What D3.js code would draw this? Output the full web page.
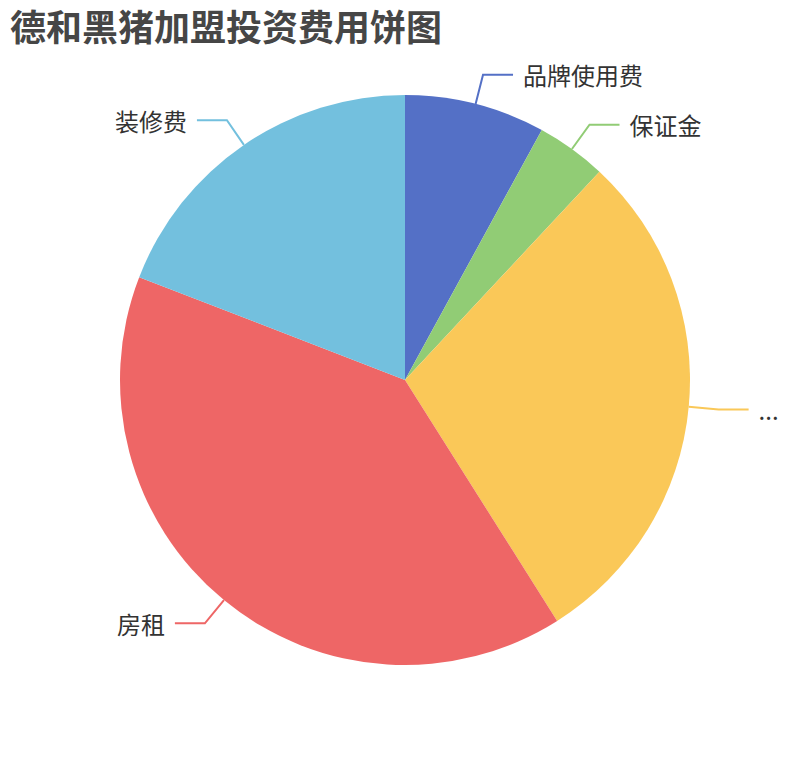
<!DOCTYPE html>
<html>
<head>
<meta charset="utf-8">
<script src="https://cdn.jsdelivr.net/npm/d3@7"></script>
<style>
  body { margin: 0; background: #fff; }
  svg { display: block; font-family: "Noto Sans CJK SC", "Noto Sans", sans-serif; }
</style>
</head>
<body>
<svg width="810" height="760"></svg>
<script>
const names = ["品牌使用费", "保证金", "...", "房租", "装修费"];
const values = [2, 1, 7.3, 10, 4.8];
const colors = ["#5470c6", "#91cc75", "#fac858", "#ee6666", "#73c0de"];

const svg = d3.select("svg");
const cx = 405, cy = 380, radius = 285;

svg.append("text")
  .attr("x", 10)
  .attr("y", 25)
  .attr("dominant-baseline", "central")
  .attr("font-size", "36px")
  .attr("font-weight", "bold")
  .attr("fill", "#464646")
  .text("德和黑猪加盟投资费用饼图");

const data = names.map((n, i) => ({ name: n, value: values[i], color: colors[i] }));

const pie = d3.pie().sort(null).value((d) => d.value);
const arcs = pie(data);
const arcGen = d3.arc().innerRadius(0).outerRadius(radius);

const g = svg.append("g").attr("transform", `translate(${cx},${cy})`);

g.selectAll("path.slice")
  .data(arcs)
  .enter()
  .append("path")
  .attr("class", "slice")
  .attr("fill", (d) => d.data.color)
  .attr("d", arcGen);

// label lines: radial segment of 30px, then horizontal 30px
const len1 = 30, len2 = 30, gap = 10;

function linePoints(d) {
  const a = (d.startAngle + d.endAngle) / 2;
  const p0 = [radius * Math.sin(a), -radius * Math.cos(a)];
  const p1 = [(radius + len1) * Math.sin(a), -(radius + len1) * Math.cos(a)];
  const dir = Math.sin(a) >= 0 ? 1 : -1;
  const p2 = [p1[0] + dir * len2, p1[1]];
  return { pts: [p0, p1, p2], dir };
}

g.selectAll("polyline.label-line")
  .data(arcs)
  .enter()
  .append("polyline")
  .attr("class", "label-line")
  .attr("fill", "none")
  .attr("stroke", (d) => d.data.color)
  .attr("stroke-width", 2)
  .attr("points", (d) => linePoints(d).pts.map((p) => p.join(",")).join(" "));

g.selectAll("text.label")
  .data(arcs)
  .enter()
  .append("text")
  .attr("class", "label")
  .attr("x", (d) => { const l = linePoints(d); return l.pts[2][0] + l.dir * gap; })
  .attr("y", (d) => linePoints(d).pts[2][1])
  .attr("dominant-baseline", "central")
  .attr("text-anchor", (d) => linePoints(d).dir > 0 ? "start" : "end")
  .attr("font-size", "24px")
  .attr("fill", "#333")
  .text((d) => d.data.name);
</script>
</body>
</html>
